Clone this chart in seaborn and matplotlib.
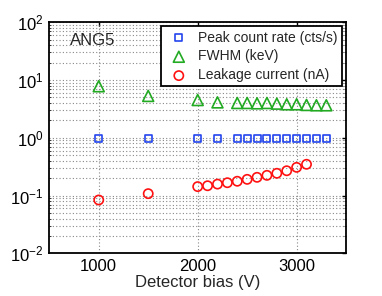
import numpy as np
import pandas as pd
import seaborn as sns
import matplotlib
matplotlib.use("Agg")
import matplotlib.pyplot as plt
from matplotlib.ticker import LogLocator, FixedLocator

# bias values (V)
bias_rate = [1000, 1500, 2000, 2200, 2400, 2500, 2600, 2700, 2800, 2900, 3000, 3100, 3200, 3300]
peak_rate = [0.96, 0.96, 0.97, 0.98, 0.97, 0.97, 0.97, 0.98, 0.97, 0.97, 0.97, 0.97, 0.97, 0.97]
fwhm = [7.8, 5.3, 4.5, 4.1, 4.0, 4.0, 3.95, 4.0, 3.9, 3.8, 3.8, 3.7, 3.65, 3.65]

bias_leak = [1000, 1500, 2000, 2100, 2200, 2300, 2400, 2500, 2600, 2700, 2800, 2900, 3000, 3100]
leakage = [0.084, 0.108, 0.143, 0.148, 0.158, 0.167, 0.177, 0.191, 0.207, 0.224, 0.243, 0.269, 0.308, 0.348]

labels = ["Peak count rate (cts/s)", "FWHM (keV)", "Leakage current (nA)"]

sns.set_style("white")
plt.rcParams['font.family'] = ['Liberation Sans', 'DejaVu Sans']

fig = plt.figure(figsize=(3.82, 2.96), dpi=100)
ax = fig.add_axes([0.129, 0.144, 0.777, 0.781])

sns.scatterplot(x=bias_rate, y=peak_rate, marker='s', s=26, facecolor='none',
                edgecolor='#2244ee', linewidth=1.2, label=labels[0], ax=ax, zorder=3)
sns.scatterplot(x=bias_rate, y=fwhm, marker='^', s=62, facecolor='none',
                edgecolor='#22aa22', linewidth=1.2, label=labels[1], ax=ax, zorder=3)
sns.scatterplot(x=bias_leak, y=leakage, marker='o', s=44, facecolor='none',
                edgecolor='#ff1111', linewidth=1.2, label=labels[2], ax=ax, zorder=3)

ax.set_yscale('log')
ax.set_xlim(500, 3500)
ax.set_ylim(1e-2, 1e2)
ax.xaxis.set_major_locator(FixedLocator([1000, 2000, 3000]))
ax.yaxis.set_major_locator(LogLocator(base=10, numticks=10))
ax.yaxis.set_minor_locator(LogLocator(base=10, subs=np.arange(2, 10), numticks=10))

ax.grid(True, which='major', color='#888888', linestyle=(0, (1, 2)), linewidth=0.8)
ax.grid(True, which='minor', axis='y', color='#888888', linestyle=(0, (1, 2)), linewidth=0.8)
ax.set_axisbelow(True)

for s in ax.spines.values():
    s.set_color('black')
    s.set_linewidth(1.3)

ax.tick_params(axis='both', which='major', direction='in', length=3, width=1,
               labelsize=12, colors='black', pad=4, top=True, right=True)
ax.tick_params(axis='y', which='minor', direction='in', length=1.5, width=0.6,
               left=True, right=True)
ax.set_xlabel("Detector bias (V)", fontsize=12, labelpad=1)
ax.set_ylabel("")

ax.text(0.07, 0.92, "ANG5", transform=ax.transAxes, fontsize=12, va='center', ha='left')

leg = ax.legend(loc='upper right', fontsize=10, frameon=True, fancybox=False,
                handletextpad=0.4, borderpad=0.3, labelspacing=0.35,
                handlelength=2.0, borderaxespad=0.3, framealpha=1)
leg.get_frame().set_edgecolor('black')
leg.get_frame().set_linewidth(1.3)

fig.savefig("out.png", dpi=100)
